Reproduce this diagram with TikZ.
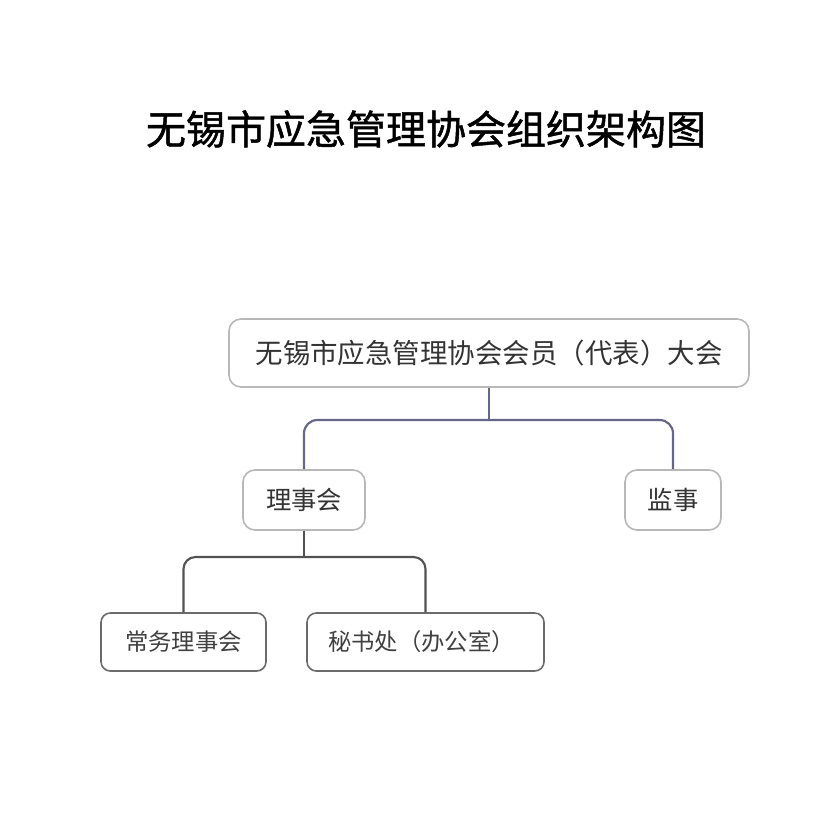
\documentclass[tikz,border=0pt]{standalone}
\usepackage{fontspec}
\newfontfamily\cjk{Noto Sans CJK SC}
\newfontfamily\cjkt[FakeBold=1.2]{Noto Sans CJK SC}
\usetikzlibrary{positioning}
\definecolor{conncol}{HTML}{66668A}
\begin{document}
\begin{tikzpicture}[x=0.75pt,y=-0.75pt,
  boxa/.style={draw=black!28, line width=1.2pt, rounded corners=9pt, fill=white, text=black!80, font=\cjk\fontsize{20.6pt}{24pt}\selectfont, inner sep=0pt},
  boxb/.style={draw=black!58, line width=1.2pt, rounded corners=7pt, fill=white, text=black!75, font=\cjk\fontsize{17.5pt}{21pt}\selectfont, inner sep=0pt},
  conna/.style={draw=conncol, line width=1.6pt, rounded corners=10pt},
  connb/.style={draw=black!68, line width=1.6pt, rounded corners=9pt}]
\useasboundingbox[fill=white] (0,0) rectangle (838,820);
\node[font=\cjkt\fontsize{30pt}{34pt}\selectfont, text=black] (title) at (426,129) {无锡市应急管理协会组织架构图};
\node[boxa, minimum width=520*0.75pt, minimum height=68*0.75pt] (top) at (489,353) {无锡市应急管理协会会员（代表）大会};
\node[boxa, font=\cjk\fontsize{19pt}{22pt}\selectfont, minimum width=122*0.75pt, minimum height=60*0.75pt] (lsh) at (304,500) {理事会};
\node[boxa, font=\cjk\fontsize{19pt}{22pt}\selectfont, minimum width=96*0.75pt, minimum height=60*0.75pt] (jsh) at (673,500) {监事};
\node[boxb, minimum width=165*0.75pt, minimum height=58*0.75pt] (cw) at (183.5,642) {常务理事会};
\node[boxb, minimum width=237*0.75pt, minimum height=58*0.75pt] (msc) at (425.5,642) {秘书处（办公室）\hspace*{6pt}};
\coordinate (j1) at (489,420);
\coordinate (j2) at (304,557);
\draw[conna] (top.south) -- (j1);
\draw[conna] (j1) -| (lsh.north);
\draw[conna] (j1) -| (jsh.north);
\draw[connb] (lsh.south) -- (j2);
\draw[connb] (j2) -| (cw.north);
\draw[connb] (j2) -| (msc.north);
\end{tikzpicture}
\end{document}
